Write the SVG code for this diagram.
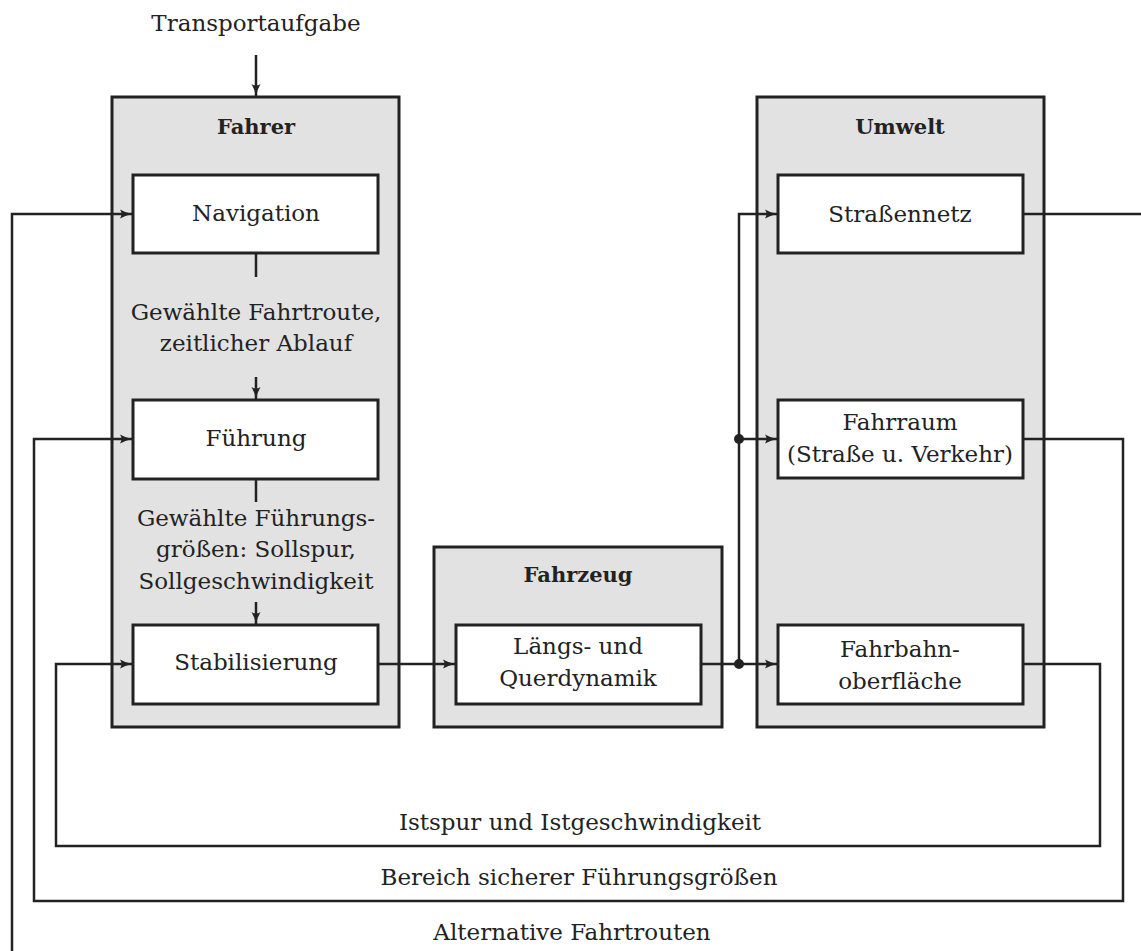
<svg xmlns="http://www.w3.org/2000/svg" width="1141" height="951" viewBox="0 0 1141 951">
<style>
.outer{fill:#e2e2e2;stroke:#222;stroke-width:3}
.inner{fill:#fff;stroke:#222;stroke-width:3}
.t{font-family:"DejaVu Serif","Liberation Serif",serif;font-size:23px;fill:#222;text-anchor:middle}
.b{font-family:"DejaVu Serif","Liberation Serif",serif;font-size:21px;font-weight:bold;fill:#222;text-anchor:middle}
.c{fill:none;stroke:#222;stroke-width:2.5}
.a{marker-end:url(#arr)}
</style>
<defs>
<marker id="arr" markerWidth="14" markerHeight="10" refX="12" refY="5" orient="auto" markerUnits="userSpaceOnUse">
<path d="M0,0.5 Q6,4 12,5 Q6,6 0,9.5 Q3,5 0,0.5 Z" fill="#222"/>
</marker>
</defs>
<rect width="1141" height="951" fill="#fff"/>
<text class="t" x="256" y="31">Transportaufgabe</text>
<g id="fahrer">
<rect class="outer" x="112" y="97" width="287" height="630"/>
<text class="b" x="256" y="134">Fahrer</text>
</g>
<g id="navigation">
<rect class="inner" x="133" y="175" width="245" height="78"/>
<text class="t" x="256" y="221">Navigation</text>
</g>
<g id="fuehrung">
<rect class="inner" x="133" y="400" width="245" height="79"/>
<text class="t" x="256" y="446">Führung</text>
</g>
<g id="stabilisierung">
<rect class="inner" x="133" y="625" width="245" height="79"/>
<text class="t" x="256" y="670">Stabilisierung</text>
</g>
<g id="fahrzeug">
<rect class="outer" x="434" y="547" width="288" height="180"/>
<text class="b" x="578" y="582">Fahrzeug</text>
</g>
<g id="dynamik">
<rect class="inner" x="456" y="625" width="245" height="79"/>
<text class="t" x="578" y="654">Längs- und</text>
<text class="t" x="578" y="686">Querdynamik</text>
</g>
<g id="umwelt">
<rect class="outer" x="757" y="97" width="287" height="630"/>
<text class="b" x="900" y="134">Umwelt</text>
</g>
<g id="strassennetz">
<rect class="inner" x="778" y="175" width="245" height="78"/>
<text class="t" x="900" y="222">Straßennetz</text>
</g>
<g id="fahrraum">
<rect class="inner" x="778" y="400" width="245" height="78"/>
<text class="t" x="900" y="430">Fahrraum</text>
<text class="t" x="900" y="462">(Straße u. Verkehr)</text>
</g>
<g id="fahrbahn">
<rect class="inner" x="778" y="625" width="245" height="79"/>
<text class="t" x="900" y="657">Fahrbahn-</text>
<text class="t" x="900" y="689">oberfläche</text>
</g>
<g id="connectors">
<path class="c a" d="M256,55 V96"/>
<path class="c" d="M256,254 V277"/>
<path class="c a" d="M256,377 V399"/>
<path class="c" d="M256,480 V502"/>
<path class="c a" d="M256,602 V624"/>
<path class="c a" d="M12,960 V214 H132"/>
<path class="c a" d="M1023,439 H1123 V901 H34 V439 H132"/>
<path class="c a" d="M1023,664 H1100 V846 H56 V664 H132"/>
<path class="c a" d="M378,664 H455"/>
<path class="c a" d="M701,664 H777"/>
<path class="c a" d="M739,664 V214 H777"/>
<path class="c a" d="M739,439 H777"/>
<path class="c" d="M1023,214 H1150"/>
<circle cx="739" cy="439" r="5" fill="#222"/>
<circle cx="739" cy="664" r="5" fill="#222"/>
</g>
<text class="t" x="256" y="320">Gewählte Fahrtroute,</text>
<text class="t" x="256" y="351">zeitlicher Ablauf</text>
<text class="t" x="256" y="526">Gewählte Führungs-</text>
<text class="t" x="256" y="557">größen: Sollspur,</text>
<text class="t" x="256" y="589">Sollgeschwindigkeit</text>
<text class="t" x="580" y="830">Istspur und Istgeschwindigkeit</text>
<text class="t" x="579" y="885">Bereich sicherer Führungsgrößen</text>
<text class="t" x="572" y="940">Alternative Fahrtrouten</text>
</svg>
